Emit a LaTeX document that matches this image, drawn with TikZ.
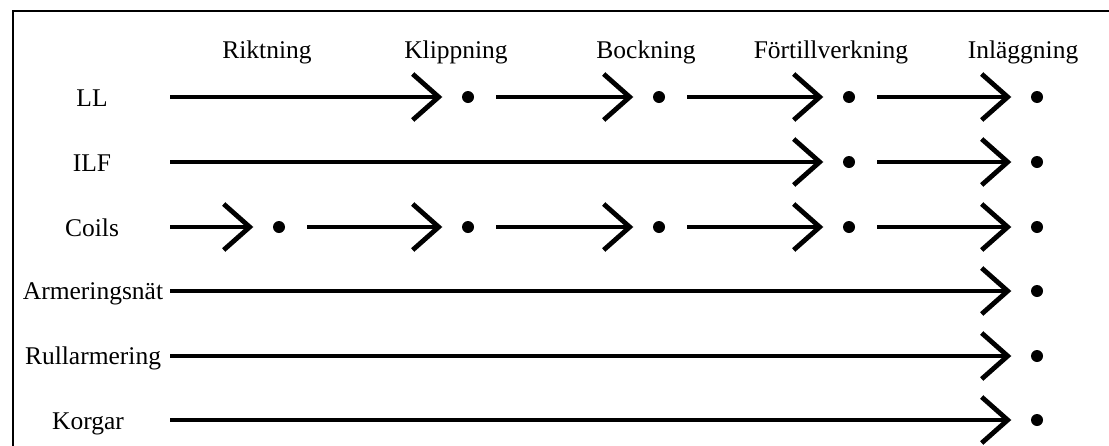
\documentclass[tikz,border=0pt]{standalone}
\usepackage{fontspec}
\setmainfont{Liberation Serif}
\usetikzlibrary{arrows.meta}
\begin{document}
\begin{tikzpicture}[x=1pt,y=-1pt,
  lbl/.style={font=\fontsize{25.5}{30}\selectfont, inner sep=0pt, anchor=base},
  dot/.style={circle, fill=black, inner sep=0pt, minimum size=12pt},
  flow/.style={line width=4.8pt, -{Straight Barb[length=26pt,width=46pt,line width=4.8pt]}, shorten >=19.5pt},
  flowafter/.style={flow, shorten <=22pt},
  frame/.style={line width=2.7pt}
]
\useasboundingbox (0,0) rectangle (1109,445);
\fill[white] (0,0) rectangle (1109,445);
\draw[frame] (13,460) -- (13,11) -- (1120,11);

% column headings
\node[lbl] (hRik) at (267,58) {Riktning};
\node[lbl] (hKli) at (456,58) {Klippning};
\node[lbl] (hBoc) at (646,58) {Bockning};
\node[lbl] (hFor) at (831,58) {Förtillverkning};
\node[lbl] (hInl) at (1023,58) {Inläggning};

% row labels
\node[lbl] (lLL) at (92,106) {LL};
\node[lbl] (lILF) at (92,171) {ILF};
\node[lbl] (lCoi) at (92,236) {Coils};
\node[lbl] (lArm) at (93,299) {Armeringsnät};
\node[lbl] (lRul) at (93,364) {Rullarmering};
\node[lbl] (lKor) at (88,429) {Korgar};

% start points
\coordinate (s1) at (170,97);
\coordinate (s2) at (170,162);
\coordinate (s3) at (170,227);
\coordinate (s4) at (170,291);
\coordinate (s5) at (170,356);
\coordinate (s6) at (170,420);

% dots
\node[dot] (LL2) at (468,97) {};
\node[dot] (LL3) at (659,97) {};
\node[dot] (LL4) at (849,97) {};
\node[dot] (LL5) at (1037,97) {};

\node[dot] (ILF4) at (849,162) {};
\node[dot] (ILF5) at (1037,162) {};

\node[dot] (C1) at (279,227) {};
\node[dot] (C2) at (468,227) {};
\node[dot] (C3) at (659,227) {};
\node[dot] (C4) at (849,227) {};
\node[dot] (C5) at (1037,227) {};

\node[dot] (A5) at (1037,291) {};
\node[dot] (R5) at (1037,356) {};
\node[dot] (K5) at (1037,420) {};

% connectors
\draw[flow] (s1) -- (LL2);
\draw[flowafter] (LL2) -- (LL3);
\draw[flowafter] (LL3) -- (LL4);
\draw[flowafter] (LL4) -- (LL5);

\draw[flow] (s2) -- (ILF4);
\draw[flowafter] (ILF4) -- (ILF5);

\draw[flow] (s3) -- (C1);
\draw[flowafter] (C1) -- (C2);
\draw[flowafter] (C2) -- (C3);
\draw[flowafter] (C3) -- (C4);
\draw[flowafter] (C4) -- (C5);

\draw[flow] (s4) -- (A5);
\draw[flow] (s5) -- (R5);
\draw[flow] (s6) -- (K5);
\end{tikzpicture}
\end{document}
